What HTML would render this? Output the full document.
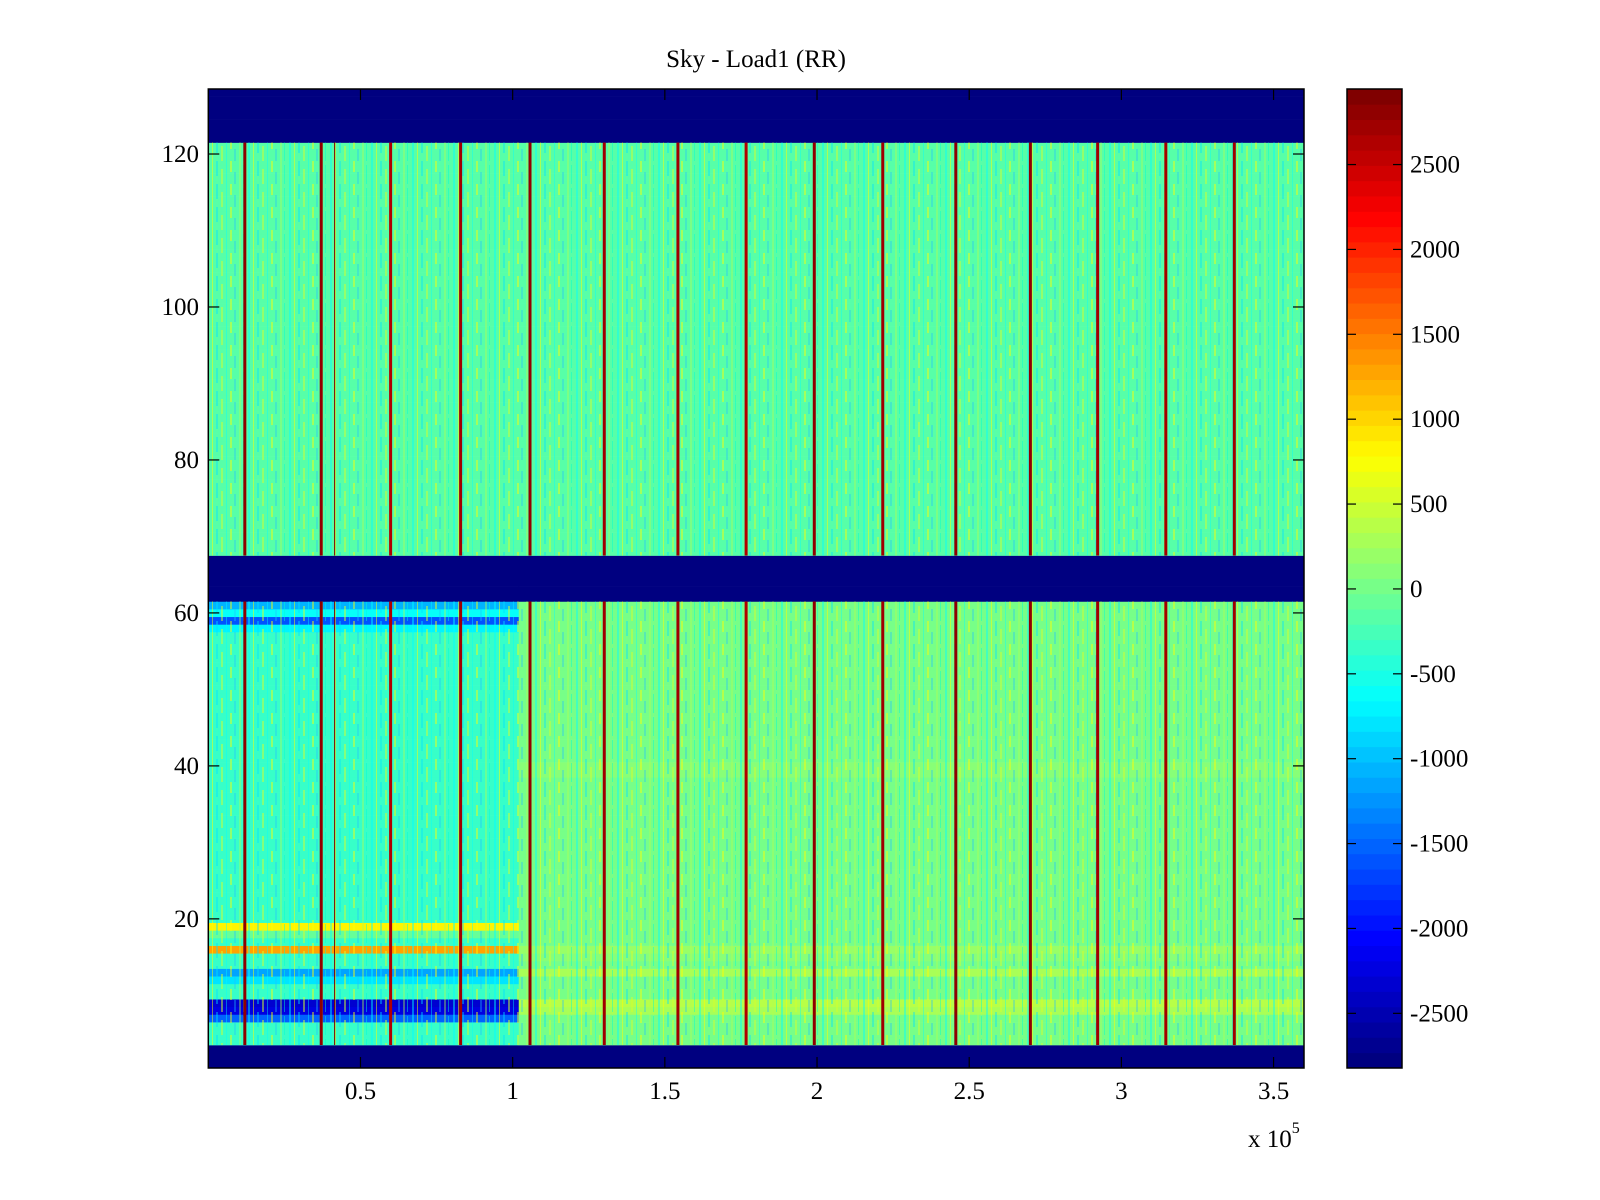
<!DOCTYPE html>
<html><head><meta charset="utf-8"><title>Sky - Load1 (RR)</title>
<style>
html,body{margin:0;padding:0;background:#fff;width:1600px;height:1200px;overflow:hidden}
svg text{font-family:"Liberation Serif",serif;fill:#000}
</style></head>
<body>
<svg id="chart" width="1600" height="1200" viewBox="0 0 1600 1200" xmlns="http://www.w3.org/2000/svg">
<defs>
<pattern id="tex" patternUnits="userSpaceOnUse" width="41" height="23">
<rect x="2" y="0" width="2" height="23" fill="#00ffff" opacity="0.45"/>
<rect x="7" y="0" width="1" height="23" fill="#ffff00" opacity="0.5"/>
<rect x="11" y="0" width="2" height="15" fill="#00e0ff" opacity="0.4"/>
<rect x="16" y="8" width="2" height="15" fill="#d0ff30" opacity="0.5"/>
<rect x="21" y="0" width="1" height="23" fill="#00ffff" opacity="0.4"/>
<rect x="25" y="0" width="2" height="11" fill="#ffff00" opacity="0.45"/>
<rect x="29" y="11" width="2" height="12" fill="#20c0ff" opacity="0.35"/>
<rect x="34" y="0" width="2" height="23" fill="#b0ff50" opacity="0.4"/>
<rect x="38" y="4" width="1" height="19" fill="#00ffd0" opacity="0.45"/>
</pattern>
</defs>
<text x="756" y="67" font-size="25" text-anchor="middle">Sky - Load1 (RR)</text>
<g id="cells"></g>
<g id="texture"></g>
<g id="stripes"></g>
<g id="axes"></g>
<g id="cbar"></g>
</svg>
<script>
// ---- data ----
const xMin = 0, xMax = 360000;
const yMin = 0.5, yMax = 128.5;
const vMin = -2822, vMax = 2945;
const splitX = 102000;
const blankRows = [1,2,3,62,63,64,65,66,67,122,123,124,125,126,127,128];
const upperDefault = -120;
const lowerRightDefault = -20;
const lowerLeftDefault = -300;
const leftRowRows = [61, 60, 59, 58, 19, 18, 16, 13, 12, 9, 8, 7];
const leftRowVals = [-1100, -600, -1600, -700, 800, -100, 1300, -1200, -800, -2300, -2200, -1500];
const rightRowRows = [40, 39, 16, 15, 13, 9, 8];
const rightRowVals = [100, 150, 200, 100, 250, 350, 300];
const stripeX = [12000, 37100, 41500, 59900, 82900, 105700, 130100, 154300, 176700, 199100, 221600, 245600, 270100, 292200, 314600, 337100];
const stripeVal = [2850, 2800, 2900, 2600, 2700, 2800, 2700, 2750, 2600, 2850, 2750, 2800, 2850, 2700, 2750, 2700];
const stripeW = [3, 3, 1, 3, 3, 3, 3, 3, 3, 3, 3, 3, 3, 3, 3, 3];
const sections = [[4, 61], [68, 121]];
const xTicks = [50000, 100000, 150000, 200000, 250000, 300000, 350000];
const xTickLabels = ["0.5", "1", "1.5", "2", "2.5", "3", "3.5"];
const yTicks = [20, 40, 60, 80, 100, 120];
const yTickLabels = ["20", "40", "60", "80", "100", "120"];
const cTicks = [-2500, -2000, -1500, -1000, -500, 0, 500, 1000, 1500, 2000, 2500];
const cTickLabels = ["-2500", "-2000", "-1500", "-1000", "-500", "0", "500", "1000", "1500", "2000", "2500"];

// ---- layout ----
const L = 208.3, R = 1304, T = 89, B = 1068;
const CL = 1347, CR = 1402;
const NS = "http://www.w3.org/2000/svg";
const xs = v => L + (v - xMin) / (xMax - xMin) * (R - L);
const ys = v => B - (v - yMin) / (yMax - yMin) * (B - T);
const cs = v => B - (v - vMin) / (vMax - vMin) * (B - T);
function jet(v) {
  let t = (v - vMin) / (vMax - vMin);
  t = Math.max(0, Math.min(1, t));
  t = Math.min(63, Math.floor(t * 64)) / 63;
  const c = x => Math.round(255 * Math.max(0, Math.min(1, x)));
  return `rgb(${c(1.5 - Math.abs(4 * t - 3))},${c(1.5 - Math.abs(4 * t - 2))},${c(1.5 - Math.abs(4 * t - 1))})`;
}
function mk(tag, attrs, parent) {
  const e = document.createElementNS(NS, tag);
  for (const k in attrs) e.setAttribute(k, attrs[k]);
  parent.appendChild(e);
  return e;
}
function rowValue(r, left) {
  if (blankRows.includes(r)) return vMin;
  if (r >= 68) return upperDefault;
  if (left) {
    const i = leftRowRows.indexOf(r);
    return i >= 0 ? leftRowVals[i] : lowerLeftDefault;
  }
  const j = rightRowRows.indexOf(r);
  return j >= 0 ? rightRowVals[j] : lowerRightDefault;
}
const cells = document.getElementById('cells');
for (let r = 1; r <= 128; r++) {
  for (const left of [true, false]) {
    const x0 = left ? xMin : splitX, x1 = left ? splitX : xMax;
    const y0 = ys(r + 0.5), y1 = ys(r - 0.5);
    const el = mk('rect', {x: xs(x0), y: y0, width: xs(x1) - xs(x0) + 0.3, height: y1 - y0 + 0.3, fill: jet(rowValue(r, left))}, cells);
    
    
  }
}
const tex = document.getElementById('texture');
for (const s of sections) {
  const y0 = ys(s[1] + 0.5), y1 = ys(s[0] - 0.5);
  const el = mk('rect', {x: L, y: y0, width: R - L, height: y1 - y0, fill: 'url(#tex)'}, tex);
  
  
}
const st = document.getElementById('stripes');
stripeX.forEach((sx, i) => {
  for (const s of sections) {
    const y0 = ys(s[1] + 0.5), y1 = ys(s[0] - 0.5);
    const el = mk('rect', {x: xs(sx) - stripeW[i] / 2, y: y0, width: stripeW[i], height: y1 - y0, fill: jet(stripeVal[i])}, st);
    
    
  }
});
// axes
const ax = document.getElementById('axes');
let fr = mk('rect', {x: L, y: T, width: R - L, height: B - T, fill: 'none', stroke: '#000', 'stroke-width': 1.5}, ax);


xTicks.forEach((v, i) => {
  const x = xs(v);
  mk('line', {x1: x, y1: B, x2: x, y2: B - 11, stroke: '#000', 'stroke-width': 1.2}, ax);
  mk('line', {x1: x, y1: T, x2: x, y2: T + 11, stroke: '#000', 'stroke-width': 1.2}, ax);
  const t = mk('text', {x: x, y: 1099, 'font-size': 25, 'text-anchor': 'middle'}, ax);
  t.textContent = xTickLabels[i];
  
  
});
yTicks.forEach((v, i) => {
  const y = ys(v);
  mk('line', {x1: L, y1: y, x2: L + 11, y2: y, stroke: '#000', 'stroke-width': 1.2}, ax);
  mk('line', {x1: R, y1: y, x2: R - 11, y2: y, stroke: '#000', 'stroke-width': 1.2}, ax);
  const t = mk('text', {x: 199, y: y + 8, 'font-size': 25, 'text-anchor': 'end'}, ax);
  t.textContent = yTickLabels[i];
  
  
});
const xm = mk('text', {x: 1248, y: 1147, 'font-size': 25}, ax);


xm.innerHTML = 'x 10<tspan font-size="16" dy="-14">5</tspan>';
// colorbar
const cb = document.getElementById('cbar');
for (let k = 0; k < 64; k++) {
  const v0 = vMin + (vMax - vMin) * k / 64, v1 = vMin + (vMax - vMin) * (k + 1) / 64;
  const el = mk('rect', {x: CL, y: cs(v1), width: CR - CL, height: cs(v0) - cs(v1) + 0.4, fill: jet((v0 + v1) / 2)}, cb);
  
  
}
let cf = mk('rect', {x: CL, y: T, width: CR - CL, height: B - T, fill: 'none', stroke: '#000', 'stroke-width': 1.5}, cb);


cTicks.forEach((v, i) => {
  const y = cs(v);
  mk('line', {x1: CL, y1: y, x2: CL + 9, y2: y, stroke: '#000', 'stroke-width': 1.2}, cb);
  mk('line', {x1: CR, y1: y, x2: CR - 9, y2: y, stroke: '#000', 'stroke-width': 1.2}, cb);
  const t = mk('text', {x: 1410, y: y + 8, 'font-size': 25}, cb);
  t.textContent = cTickLabels[i];
  
  
});
</script>
</body></html>
